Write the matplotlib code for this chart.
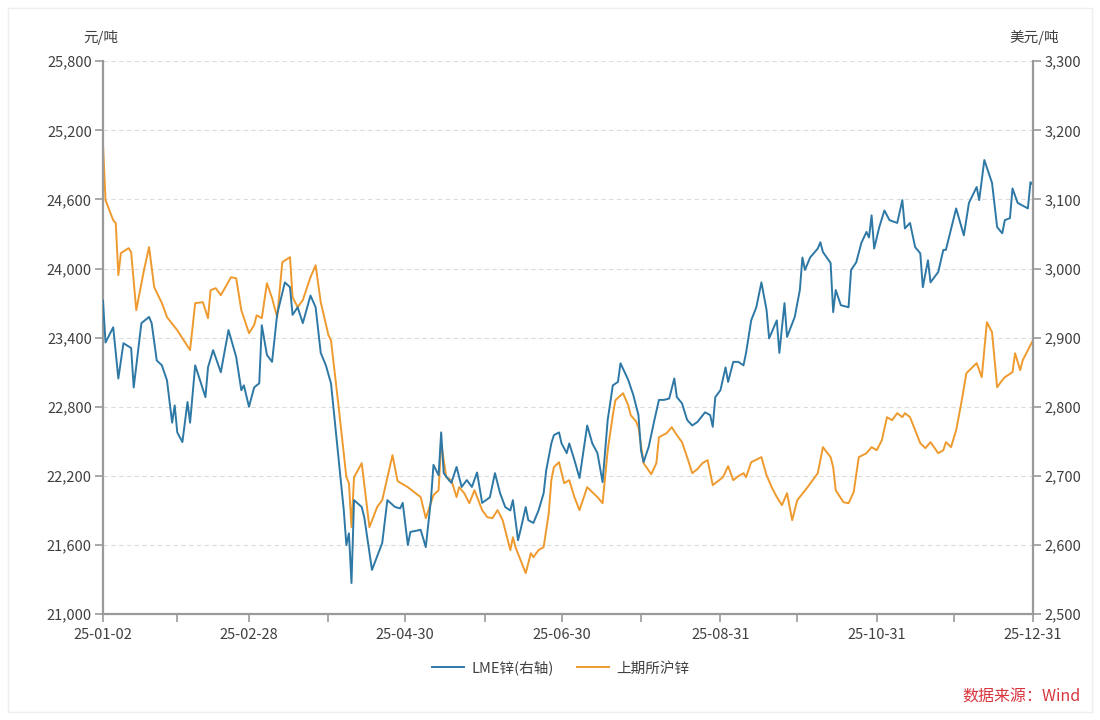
import numpy as np
import matplotlib
matplotlib.use("Agg")
import matplotlib.pyplot as plt
import matplotlib.dates as mdates
from matplotlib.ticker import FuncFormatter, FixedLocator
from matplotlib.patches import Rectangle
import datetime as dt

plt.rcParams['font.family'] = ['Noto Sans CJK SC', 'DejaVu Sans']

# ---------------- data ----------------
base_date = np.datetime64('2025-01-02')

# LME zinc (USD/t, right axis): days since 2025-01-02 and values
lme_day = [0, 1, 4, 6, 8, 11, 12, 15, 18, 19, 21, 23, 25, 27, 28, 29, 31, 33, 34, 36,
           40, 41, 43, 46, 49, 52, 54, 55, 57, 59, 61, 62, 64, 66, 68, 71, 73, 74, 76, 78,
           81, 83, 85, 87, 89, 92, 94, 95, 96, 97, 98, 101, 102, 105, 109, 111, 114, 116, 117, 119,
           120, 124, 126, 128, 129, 131, 132, 133, 135, 136, 138, 140, 142, 144, 146, 148, 151, 153, 155, 157,
           159, 160, 161, 162, 163, 165, 166, 168, 170, 172, 173, 175, 176, 178, 179, 181, 182, 184, 186, 189,
           191, 193, 195, 197, 199, 201, 202, 205, 207, 209, 210, 211, 213, 215, 217, 219, 221, 223, 224, 226,
           228, 230, 232, 235, 237, 238, 239, 241, 243, 244, 246, 248, 250, 251, 253, 255, 257, 259, 260, 263,
           264, 266, 267, 270, 272, 273, 274, 276, 279, 280, 281, 284, 285, 286, 288, 291, 292, 294, 296, 298,
           299, 300, 301, 303, 305, 307, 310, 312, 313, 315, 317, 319, 320, 322, 323, 326, 328, 329, 333, 336,
           338, 341, 342, 344, 347, 349, 351, 352, 354, 355, 357, 361, 362, 363]
lme_val = [2954, 2893, 2915, 2841, 2892, 2885, 2828, 2921, 2930, 2921, 2867, 2860, 2838, 2777, 2802, 2763, 2749, 2807, 2777, 2860,
           2814, 2857, 2882, 2850, 2911, 2872, 2824, 2831, 2800, 2828, 2834, 2918, 2875, 2865, 2934, 2980, 2973, 2933, 2944, 2921,
           2961, 2944, 2878, 2860, 2834, 2723, 2650, 2600, 2617, 2545, 2665, 2655, 2640, 2564, 2603, 2665, 2655, 2653, 2661, 2600,
           2619, 2622, 2597, 2665, 2716, 2701, 2763, 2704, 2694, 2690, 2713, 2684, 2694, 2684, 2705, 2661, 2669, 2704, 2675, 2655,
           2650, 2665, 2636, 2607, 2622, 2655, 2636, 2632, 2650, 2675, 2708, 2747, 2759, 2763, 2747, 2733, 2747, 2723, 2697, 2773,
           2747, 2733, 2691, 2781, 2831, 2836, 2863, 2839, 2817, 2788, 2737, 2720, 2742, 2777, 2810, 2810, 2812, 2841, 2814, 2805,
           2781, 2773, 2778, 2792, 2788, 2771, 2814, 2824, 2857, 2836, 2865, 2865, 2860, 2878, 2925, 2944, 2980, 2940, 2899, 2925,
           2878, 2950, 2901, 2930, 2969, 3016, 2998, 3016, 3029, 3038, 3024, 3008, 2937, 2969, 2947, 2944, 2998, 3009, 3037, 3053,
           3045, 3077, 3029, 3060, 3084, 3070, 3066, 3099, 3058, 3066, 3031, 3022, 2973, 3012, 2980, 2995, 3027, 3027, 3087, 3048,
           3095, 3118, 3099, 3157, 3124, 3060, 3051, 3070, 3073, 3116, 3095, 3087, 3125, 3121]

# SHFE zinc (CNY/t, left axis): days since 2025-01-02 and values
shfe_day = [0, 1, 4, 5, 6, 7, 10, 11, 13, 16, 18, 20, 23, 25, 29, 34, 36, 39, 41, 42,
            44, 46, 50, 52, 54, 57, 59, 60, 62, 64, 66, 68, 70, 73, 74, 76, 78, 81, 83, 85,
            88, 89, 92, 95, 96, 97, 98, 101, 104, 107, 109, 113, 115, 119, 124, 126, 129, 131, 132, 133,
            134, 136, 138, 139, 141, 143, 145, 148, 150, 152, 154, 156, 158, 159, 160, 161, 163, 165, 166, 167,
            168, 170, 172, 174, 175, 176, 178, 180, 182, 184, 186, 189, 193, 195, 197, 199, 200, 203, 205, 206,
            208, 209, 211, 214, 216, 217, 220, 222, 224, 226, 228, 230, 232, 234, 236, 238, 240, 242, 244, 246,
            248, 250, 251, 253, 257, 259, 261, 263, 265, 267, 269, 271, 275, 279, 281, 284, 285, 286, 289, 291,
            293, 295, 298, 300, 302, 304, 306, 308, 310, 312, 313, 315, 317, 319, 321, 323, 326, 328, 329, 331,
            333, 335, 337, 341, 343, 345, 347, 349, 351, 352, 355, 356, 358, 359, 363]
shfe_val = [25088, 24594, 24420, 24394, 23943, 24134, 24177, 24142, 23639, 23986, 24186, 23838, 23700, 23578, 23465, 23292, 23700, 23708, 23569, 23812,
            23830, 23769, 23925, 23916, 23639, 23439, 23509, 23595, 23569, 23873, 23743, 23578, 24055, 24099, 23752, 23665, 23726, 23925, 24029, 23708,
            23422, 23378, 22797, 22189, 22137, 21755, 22189, 22311, 21755, 21929, 21990, 22380, 22155, 22102, 22016, 21833, 22033, 22076, 22484, 22337,
            22189, 22163, 22016, 22102, 22050, 21963, 22076, 21903, 21842, 21833, 21903, 21816, 21642, 21556, 21668, 21582, 21469, 21356, 21443, 21529,
            21495, 21556, 21582, 21877, 22163, 22276, 22319, 22137, 22163, 22016, 21903, 22102, 22016, 21963, 22423, 22727, 22857, 22918, 22814, 22727,
            22675, 22623, 22311, 22215, 22311, 22536, 22571, 22623, 22554, 22493, 22363, 22224, 22259, 22311, 22337, 22120, 22155, 22189, 22285, 22163,
            22198, 22224, 22189, 22319, 22363, 22206, 22102, 22016, 21946, 22050, 21816, 21990, 22102, 22224, 22450, 22363, 22276, 22076, 21972, 21963,
            22059, 22363, 22397, 22450, 22423, 22510, 22710, 22684, 22745, 22710, 22745, 22710, 22597, 22484, 22441, 22493, 22397, 22423, 22493, 22450,
            22597, 22831, 23092, 23179, 23057, 23534, 23448, 22970, 23031, 23057, 23101, 23265, 23118, 23205, 23378]

tick_labels = ['25-01-02', '25-02-28', '25-04-30', '25-06-30', '25-08-31', '25-10-31', '25-12-31']
minor_dates = ['2025-01-31', '2025-03-31', '2025-05-31', '2025-07-31', '2025-09-30', '2025-11-30']
left_ticks = [21000, 21600, 22200, 22800, 23400, 24000, 24600, 25200, 25800]
right_ticks = [2500, 2600, 2700, 2800, 2900, 3000, 3100, 3200, 3300]

series_names = ['LME锌(右轴)', '上期所沪锌']

# ---------------- plot ----------------
BLUE = '#2E78A6'
ORANGE = '#EE9A2E'
AXC = '#9a9a9a'
TXT = '#404040'

fig = plt.figure(figsize=(11, 7.2), dpi=100)
fig.patches.append(Rectangle((8 / 1100, 8 / 720), 1084 / 1100, 704 / 720, transform=fig.transFigure,
                             fill=False, edgecolor='#eeeeee', linewidth=1.0))
ax = fig.add_axes([0.0936, 0.147, 0.8455, 0.768])
ax2 = ax.twinx()

lme_x = (base_date + np.array(lme_day).astype('timedelta64[D]')).astype(object)
shfe_x = (base_date + np.array(shfe_day).astype('timedelta64[D]')).astype(object)

l_shfe, = ax.plot(shfe_x, shfe_val, color=ORANGE, lw=1.4, label=series_names[1])
l_lme, = ax2.plot(lme_x, lme_val, color=BLUE, lw=1.4, label=series_names[0])

ax.set_ylim(21000, 25800)
ax2.set_ylim(2500, 3300)
ax.set_yticks(left_ticks)
ax2.set_yticks(right_ticks)
fmt = FuncFormatter(lambda v, p: f"{v:,.0f}")
ax.yaxis.set_major_formatter(fmt)
ax2.yaxis.set_major_formatter(fmt)

major_dates = [dt.datetime.strptime('20' + s, '%Y-%m-%d') for s in tick_labels]
minor_dt = [dt.datetime.strptime(s, '%Y-%m-%d') for s in minor_dates]
ax.set_xlim(major_dates[0], major_dates[-1])
ax.xaxis.set_major_locator(FixedLocator(mdates.date2num(major_dates)))
ax.xaxis.set_minor_locator(FixedLocator(mdates.date2num(minor_dt)))
ax.set_xticklabels(tick_labels)

ax.grid(axis='y', color='#dcdcdc', linestyle=(0, (4, 3)), linewidth=0.8)
ax.set_axisbelow(True)

for a in (ax, ax2):
    a.spines['top'].set_visible(False)
    for s in ('left', 'right', 'bottom'):
        a.spines[s].set_color(AXC)
        a.spines[s].set_linewidth(1.6)
ax.spines['right'].set_visible(False)
ax2.spines['left'].set_visible(False)
ax2.spines['bottom'].set_visible(False)

ax.tick_params(axis='y', direction='out', length=6, width=1.2, color=AXC, labelsize=10.5, labelcolor=TXT, pad=2)
ax2.tick_params(axis='y', direction='out', length=6, width=1.2, color=AXC, labelsize=10.5, labelcolor=TXT, pad=2)
ax.tick_params(axis='x', which='both', direction='out', length=6, width=1.2, color=AXC, labelsize=10.5, labelcolor=TXT, pad=4)

fig.text(0.092, 0.948, '元/吨', fontsize=10.5, color=TXT, ha='center', va='center')
fig.text(0.963, 0.948, '美元/吨', fontsize=10.5, color=TXT, ha='right', va='center')

fig.legend(handles=[l_lme, l_shfe], labels=series_names, loc='center', bbox_to_anchor=(0.51, 0.072),
           ncol=2, frameon=False, fontsize=10.5, handlelength=2.2, columnspacing=1.6, handletextpad=0.5,
           labelcolor=TXT)

fig.text(0.982, 0.032, '数据来源：Wind', fontsize=11.5, color='#D8353E', ha='right', va='center')

fig.savefig('out.png', dpi=100, facecolor='white')
